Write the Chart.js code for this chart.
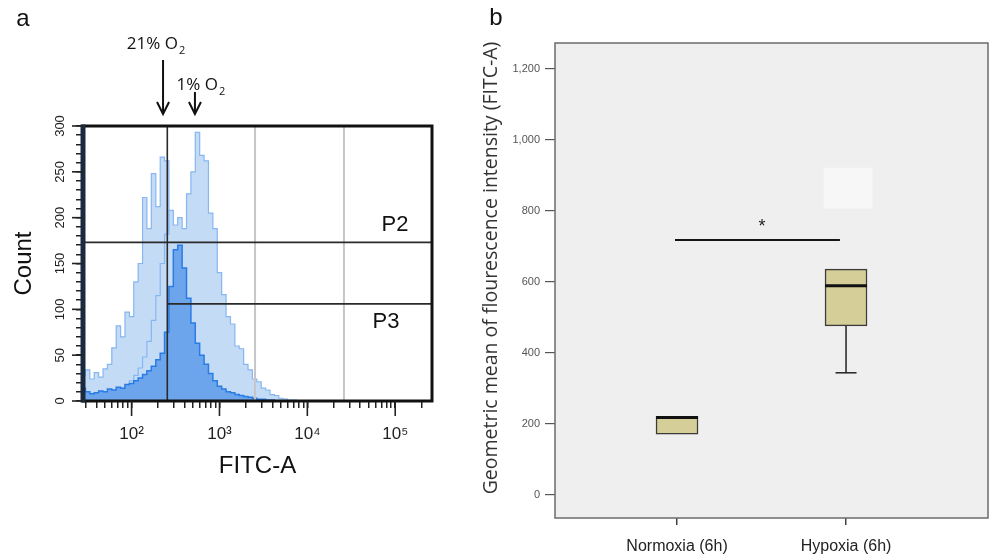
<!DOCTYPE html>
<html>
<head>
<meta charset="utf-8">
<script src="https://cdn.jsdelivr.net/npm/chart.js@4.4.1/dist/chart.umd.min.js"></script>
<style>
  html, body { margin: 0; padding: 0; background: #fff; }
  #wrap { position: relative; width: 990px; height: 556px; overflow: hidden; }
  #boxA { position: absolute; left: 0; top: 0; width: 460px; height: 556px; }
  #boxB { position: absolute; left: 470px; top: 0; width: 520px; height: 556px; }
</style>
</head>
<body>
<div id="wrap">
  <div id="boxA"><canvas id="histChart" width="460" height="556"></canvas></div>
  <div id="boxB"><canvas id="boxChart" width="520" height="556"></canvas></div>
</div>
<script>
// ---- panel a : FITC-A histograms ----
const fitcBins = [28.2, 31.6, 35.5, 39.8, 44.7, 50.1, 56.2, 63.1, 70.8, 79.4, 89.1, 100, 112, 126, 141, 158, 178, 200, 224, 251,
  282, 316, 355, 398, 447, 501, 562, 631, 708, 794, 891, 1000, 1122, 1259, 1413, 1585, 1778, 1995, 2239, 2512,
  2818, 3162, 3548, 3981, 4467, 5012, 5623, 6310, 7079, 7943];
// 21% O2 (light)
const countNormoxia = [28, 34, 24, 31, 26, 35, 40, 58, 82, 70, 97, 92, 130, 150, 222, 188, 248, 212, 266, 262,
  185, 150, 110, 80, 55, 38, 26, 18, 12, 8, 5, 4, 3, 2, 1, 1, 0, 0, 0, 0,
  0, 0, 0, 0, 0, 0, 0, 0, 0, 0];
// 1% O2 (light)
const countHypoxia = [3, 4, 3, 5, 5, 6, 8, 9, 12, 14, 18, 22, 28, 36, 48, 65, 88, 115, 150, 182,
  208, 192, 200, 188, 226, 250, 293, 268, 262, 205, 188, 140, 116, 92, 84, 60, 57, 40, 34, 24,
  21, 14, 12, 7, 6, 3, 2, 1, 1, 0];
// dark overlay
const countOverlay = [14, 10, 8, 9, 11, 10, 13, 12, 15, 14, 18, 19, 22, 25, 29, 33, 38, 45, 52, 75,
  125, 165, 170, 145, 112, 85, 63, 50, 40, 30, 22, 16, 13, 10, 9, 7, 6, 5, 4, 3,
  2, 2, 1, 1, 0, 0, 0, 0, 0, 0];

const fitcTicks = [30, 40, 50, 60, 70, 80, 90, 100, 200, 300, 400, 500, 600, 700, 800, 900,
  1000, 2000, 3000, 4000, 5000, 6000, 7000, 8000, 9000, 10000, 20000, 30000, 40000, 50000,
  60000, 70000, 80000, 90000, 100000, 200000];
const fitcDecades = [100, 1000, 10000, 100000];
const fitcDecadeLabels = ['10\u00B2', '10\u00B3', '10\u2074', '10\u2075'];
const countLabels = [0, 50, 100, 150, 200, 250, 300];

const guideLines = [2540, 26100];
const gateStart = 255;
const gateP2 = 173;
const gateP3 = 106;
const arrowValues = [228, 526];
const arrowLabels = ['21% O', '1% O'];

// ---- panel b : box plot ----
const groups = ['Normoxia (6h)', 'Hypoxia (6h)'];
const groupPos = [1, 2];
const boxMin = [171, 344];
const boxQ1 = [171, 476];
const boxMedian = [218, 589];
const boxQ3 = [221, 636];
const boxMax = [221, 636];
const intensityTicks = [0, 200, 400, 600, 800, 1000, 1200];
const sigSpan = [0.988, 1.964];
const sigLevel = 718;
const sigStar = { x: 1.503, y: 765 };
const patchPos = 2.012;
const patchRange = [808, 921];

const SANS = '"Liberation Sans", Arial, sans-serif';
const OPEN = '"Open Sans", "Liberation Sans", sans-serif';

function seg(ctx, x1, y1, x2, y2) {
  ctx.beginPath(); ctx.moveTo(x1, y1); ctx.lineTo(x2, y2); ctx.stroke();
}

function histSet(counts, fill, line, w) {
  return {
    data: fitcBins.map((v, i) => ({ x: v, y: counts[i] })),
    stepped: 'middle', fill: 'origin',
    backgroundColor: fill, borderColor: line, borderWidth: w,
    pointRadius: 0
  };
}

const histDecor = {
  id: 'histDecor',
  afterDatasetsDraw(chart) {
    const { ctx, chartArea: a, scales: { x, y } } = chart;
    ctx.save();
    // light grey guide lines
    ctx.strokeStyle = '#c6c6c6'; ctx.lineWidth = 2;
    guideLines.forEach(v => { const px = x.getPixelForValue(v); seg(ctx, px, a.top, px, a.bottom); });
    // gates
    ctx.strokeStyle = '#2a2a2a'; ctx.lineWidth = 1.6;
    const gx = x.getPixelForValue(gateStart);
    seg(ctx, gx, a.top, gx, a.bottom);
    seg(ctx, a.left, y.getPixelForValue(gateP2), a.right, y.getPixelForValue(gateP2));
    seg(ctx, gx, y.getPixelForValue(gateP3), a.right, y.getPixelForValue(gateP3));
    ctx.fillStyle = '#111';
    ctx.font = '22px ' + SANS;
    ctx.textAlign = 'center'; ctx.textBaseline = 'middle';
    ctx.fillText('P2', 395, y.getPixelForValue(gateP2) - 17);
    ctx.fillText('P3', 386, y.getPixelForValue(gateP3) + 18);
    ctx.restore();
  },
  afterDraw(chart) {
    const { ctx, chartArea: a, scales: { x, y } } = chart;
    ctx.save();
    // frame
    ctx.strokeStyle = '#111'; ctx.lineWidth = 3;
    ctx.strokeRect(a.left, a.top, a.right - a.left, a.bottom - a.top);
    ctx.strokeStyle = '#1c2a40'; ctx.lineWidth = 5;
    seg(ctx, a.left, a.top - 1.5, a.left, a.bottom + 1.5);
    // longer major ticks
    ctx.strokeStyle = '#222'; ctx.lineWidth = 1.6;
    fitcDecades.forEach(v => { const px = x.getPixelForValue(v); seg(ctx, px, a.bottom, px, a.bottom + 15); });
    countLabels.forEach(v => { const py = y.getPixelForValue(v); seg(ctx, a.left - 11, py, a.left, py); });
    // rotated count labels
    ctx.fillStyle = '#222'; ctx.font = '13px ' + SANS;
    ctx.textAlign = 'center'; ctx.textBaseline = 'middle';
    countLabels.forEach(v => {
      ctx.save();
      ctx.translate(60, y.getPixelForValue(v));
      ctx.rotate(-Math.PI / 2);
      ctx.fillText(String(v), 0, 0);
      ctx.restore();
    });
    // arrows with O2 labels
    const tipY = 114, tops = [60, 92], textY = [44, 85], dx = [-7, 6];
    arrowValues.forEach((v, i) => {
      const px = x.getPixelForValue(v);
      ctx.strokeStyle = '#111'; ctx.lineWidth = 2;
      seg(ctx, px, tops[i], px, tipY);
      ctx.beginPath(); ctx.moveTo(px - 6, tipY - 12); ctx.lineTo(px, tipY); ctx.lineTo(px + 6, tipY - 12); ctx.stroke();
      ctx.font = '17px ' + OPEN;
      const w1 = ctx.measureText(arrowLabels[i]).width;
      ctx.font = '11px ' + OPEN;
      const w2 = ctx.measureText('2').width;
      const sx = px + dx[i] - (w1 + w2 + 1) / 2;
      ctx.textAlign = 'left'; ctx.textBaseline = 'middle'; ctx.fillStyle = '#111';
      ctx.font = '17px ' + OPEN;
      ctx.fillText(arrowLabels[i], sx, textY[i]);
      ctx.font = '11px ' + OPEN;
      ctx.fillText('2', sx + w1 + 1, textY[i] + 7);
    });
    // panel letter
    ctx.font = '24px ' + SANS; ctx.textAlign = 'center'; ctx.fillStyle = '#111';
    ctx.fillText('a', 23, 19);
    ctx.restore();
  }
};

// first dataset is painted on top: dark overlay first, light histograms under it
new Chart(document.getElementById('histChart'), {
  type: 'line',
  data: {
    datasets: [
      histSet(countOverlay, '#6ca5ec', '#2a7ce5', 1.5),
      histSet(countHypoxia, '#c4dbf6', '#86b7f0', 1.2),
      histSet(countNormoxia, '#c4dbf6', '#86b7f0', 1.2)
    ]
  },
  options: {
    responsive: false, animation: false, devicePixelRatio: 1, events: [],
    layout: { padding: { left: 10, top: 126, right: 28, bottom: 75 } },
    plugins: { legend: { display: false }, tooltip: { enabled: false } },
    scales: {
      x: {
        type: 'logarithmic', min: 28, max: 262144,
        afterBuildTicks: s => { s.ticks = fitcTicks.map(v => ({ value: v })); },
        afterFit: s => { s.height = 80; },
        border: { display: false },
        grid: { drawOnChartArea: false, tickLength: 7, color: '#222', lineWidth: 1.5 },
        ticks: {
          autoSkip: false, maxRotation: 0, minRotation: 0, padding: 16, color: '#222',
          font: { family: SANS, size: 17 },
          callback: v => { const i = fitcDecades.indexOf(v); return i < 0 ? '' : fitcDecadeLabels[i]; }
        },
        title: { display: true, text: 'FITC-A', color: '#111', font: { family: SANS, size: 24 }, padding: 0 }
      },
      y: {
        min: 0, max: 300,
        afterFit: s => { s.width = 73; },
        border: { display: false },
        grid: { drawOnChartArea: false, tickLength: 7, color: '#222', lineWidth: 1.5 },
        ticks: { stepSize: 10, display: false },
        title: { display: true, text: 'Count', color: '#111', font: { family: SANS, size: 24 }, padding: 0 }
      }
    }
  },
  plugins: [histDecor]
});

const boxDecor = {
  id: 'boxDecor',
  beforeDraw(chart) {
    const { ctx, chartArea: a } = chart;
    ctx.save();
    ctx.fillStyle = '#efefef';
    ctx.fillRect(a.left, a.top, a.right - a.left, a.bottom - a.top);
    ctx.restore();
  },
  afterDatasetsDraw(chart) {
    const { ctx, scales: { x, y } } = chart;
    ctx.save();
    ctx.strokeStyle = '#222';
    groupPos.forEach((p, i) => {
      const px = x.getPixelForValue(p);
      ctx.lineWidth = 1.5;
      if (boxMin[i] < boxQ1[i]) {
        seg(ctx, px, y.getPixelForValue(boxQ1[i]), px, y.getPixelForValue(boxMin[i]));
        seg(ctx, px - 10.5, y.getPixelForValue(boxMin[i]), px + 10.5, y.getPixelForValue(boxMin[i]));
      }
      if (boxMax[i] > boxQ3[i]) {
        seg(ctx, px, y.getPixelForValue(boxQ3[i]), px, y.getPixelForValue(boxMax[i]));
        seg(ctx, px - 10.5, y.getPixelForValue(boxMax[i]), px + 10.5, y.getPixelForValue(boxMax[i]));
      }
      ctx.lineWidth = 3; ctx.strokeStyle = '#111';
      seg(ctx, px - 21, y.getPixelForValue(boxMedian[i]), px + 21, y.getPixelForValue(boxMedian[i]));
      ctx.strokeStyle = '#222';
    });
    ctx.fillStyle = '#222'; ctx.font = '18px ' + SANS;
    ctx.textAlign = 'center'; ctx.textBaseline = 'middle';
    ctx.fillText('*', x.getPixelForValue(sigStar.x), y.getPixelForValue(sigStar.y) + 4);
    ctx.restore();
  },
  afterDraw(chart) {
    const { ctx, chartArea: a } = chart;
    ctx.save();
    ctx.strokeStyle = '#6b6b6b'; ctx.lineWidth = 1.5;
    ctx.strokeRect(a.left, a.top, a.right - a.left, a.bottom - a.top);
    ctx.fillStyle = '#333'; ctx.font = '19.5px ' + OPEN;
    ctx.textAlign = 'center'; ctx.textBaseline = 'middle';
    ctx.translate(21, 268); ctx.rotate(-Math.PI / 2);
    ctx.fillText('Geometric mean of flourescence intensity (FITC-A)', 0, 0);
    ctx.restore();
    ctx.save();
    ctx.fillStyle = '#111'; ctx.font = '24px ' + SANS; ctx.textAlign = 'center'; ctx.textBaseline = 'middle';
    ctx.fillText('b', 26, 18);
    ctx.restore();
  }
};

new Chart(document.getElementById('boxChart'), {
  type: 'bar',
  data: {
    datasets: [
      {
        type: 'line',
        data: sigSpan.map(p => ({ x: p, y: sigLevel })),
        borderColor: '#151515', borderWidth: 2, pointRadius: 0
      },
      {
        type: 'bar', grouped: false, barThickness: 42,
        data: groupPos.map((p, i) => ({ x: p, y: [boxQ1[i], boxQ3[i]] })),
        backgroundColor: '#d6ce98', borderColor: '#3b3b3b', borderWidth: 1.5, borderSkipped: false
      },
      {
        type: 'bar', grouped: false, barThickness: 48,
        data: [{ x: patchPos, y: patchRange }],
        backgroundColor: '#f7f7f7', borderWidth: 0
      }
    ]
  },
  options: {
    responsive: false, animation: false, devicePixelRatio: 1, events: [],
    layout: { padding: { left: 5, top: 43, right: 2, bottom: 0 } },
    plugins: { legend: { display: false }, tooltip: { enabled: false } },
    scales: {
      x: {
        type: 'linear', min: 0.278, max: 2.84, offset: false,
        afterBuildTicks: s => { s.ticks = groupPos.map(v => ({ value: v })); },
        afterFit: s => { s.height = 38; },
        border: { display: false },
        grid: { offset: false, drawOnChartArea: false, tickLength: 7, color: '#444', lineWidth: 1.5 },
        ticks: {
          padding: 12, color: '#222', font: { family: SANS, size: 16 }, maxRotation: 0,
          callback: v => { const i = groupPos.indexOf(v); return i < 0 ? '' : groups[i]; }
        }
      },
      y: {
        type: 'linear', min: -65, max: 1273,
        afterBuildTicks: s => { s.ticks = intensityTicks.map(v => ({ value: v })); },
        afterFit: s => { s.width = 80; },
        border: { display: false },
        grid: { drawOnChartArea: false, tickLength: 10, color: '#555', lineWidth: 1.2 },
        ticks: { padding: 5, color: '#555', font: { family: SANS, size: 11 }, callback: v => v.toLocaleString('en-US') }
      }
    }
  },
  plugins: [boxDecor]
});
</script>
</body>
</html>
